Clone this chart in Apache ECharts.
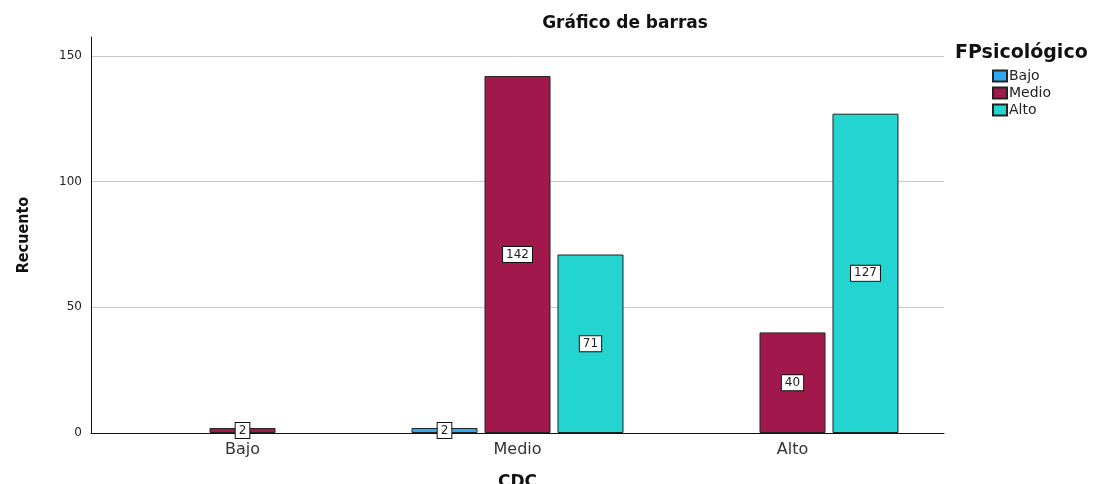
<!DOCTYPE html>
<html>
<head>
<meta charset="utf-8">
<script src="https://cdn.jsdelivr.net/npm/echarts@6/dist/echarts.min.js"></script>
<style>
  html, body { margin: 0; padding: 0; background: #fff; }
  #chart { width: 1106px; height: 484px; }
</style>
</head>
<body>
<div id="chart"></div>
<script>
const categories = ['Bajo', 'Medio', 'Alto']
const seriesNames = ['Bajo', 'Medio', 'Alto']
const bajoValues = [0, 2, 0]
const medioValues = [2, 142, 40]
const altoValues = [0, 71, 127]
const seriesColors = ['#33a9f2', '#a1194c', '#23d4d1']

const font = 'DejaVu Sans, sans-serif'

const makeSeries = (name, values, color) => ({
  name,
  type: 'bar',
  xAxisIndex: 1,
  yAxisIndex: 1,
  barWidth: 66,
  barGap: '10.6%',
  itemStyle: { color, borderColor: '#222', borderWidth: 1 },
  label: {
    show: true,
    position: 'inside',
    color: '#222',
    fontFamily: font,
    fontSize: 12,
    backgroundColor: '#fff',
    borderColor: '#111',
    borderWidth: 1,
    padding: [2, 3, 1, 3],
    formatter: p => (p.value ? p.value : ''),
  },
  data: values.map(v => (v === 0 ? '-' : v)),
})

const chart = echarts.init(document.getElementById('chart'))
chart.setOption({
  animation: false,
  title: [
    {
      text: 'Gráfico de barras',
      left: 625,
      top: 15,
      padding: 0,
      textAlign: 'center',
      textStyle: { fontFamily: font, fontSize: 17, fontWeight: 'bold', color: '#111' },
    },
    {
      text: 'FPsicológico',
      left: 955,
      top: 44,
      padding: 0,
      textStyle: { fontFamily: font, fontSize: 19, fontWeight: 'bold', color: '#111' },
    },
  ],
  legend: {
    orient: 'vertical',
    left: 992,
    top: 69,
    padding: 0,
    itemWidth: 14,
    itemHeight: 11,
    itemGap: 3,
    icon: 'rect',
    data: seriesNames,
    textStyle: { fontFamily: font, fontSize: 14, lineHeight: 14, color: '#222', padding: [0, 0, 0, -3] },
  },
  grid: [
    { left: 91, right: 162, top: 37, bottom: 51, outerBoundsMode: 'none' },
    { left: 105, right: 176, top: 37, bottom: 51, outerBoundsMode: 'none' },
  ],
  xAxis: [
    {
      type: 'category',
      gridIndex: 0,
      data: categories,
      axisLine: { lineStyle: { color: '#111', width: 1 } },
      axisTick: { show: false },
      axisLabel: { show: false },
    },
    {
      type: 'category',
      gridIndex: 1,
      data: categories,
      axisLine: { show: false },
      axisTick: { show: false },
      axisLabel: { fontFamily: font, fontSize: 16, color: '#333', margin: 9 },
      name: 'CDC',
      nameLocation: 'middle',
      nameGap: 41,
      nameTextStyle: { fontFamily: font, fontSize: 17, fontWeight: 'bold', color: '#111' },
    },
  ],
  yAxis: [
    {
      type: 'value',
      gridIndex: 0,
      min: 0,
      max: 157.5,
      interval: 50,
      axisLine: { show: true, lineStyle: { color: '#111', width: 1 } },
      axisTick: { show: false },
      axisLabel: {
        fontFamily: font,
        fontSize: 12,
        color: '#222',
        margin: 9,
        showMaxLabel: false,
      },
      splitLine: { show: true, showMaxLine: false, lineStyle: { color: '#c8c8c8', width: 1 } },
      name: 'Recuento',
      nameLocation: 'middle',
      nameGap: 59,
      nameTextStyle: {
        fontFamily: 'DejaVu Sans Condensed, Liberation Sans, sans-serif',
        fontSize: 16,
        fontWeight: 'bold',
        color: '#111',
      },
    },
    {
      type: 'value',
      gridIndex: 1,
      min: 0,
      max: 157.5,
      interval: 50,
      show: false,
      splitLine: { show: false },
    },
  ],
  series: [
    makeSeries(seriesNames[0], bajoValues, seriesColors[0]),
    makeSeries(seriesNames[1], medioValues, seriesColors[1]),
    makeSeries(seriesNames[2], altoValues, seriesColors[2]),
  ],
})
</script>
</body>
</html>
